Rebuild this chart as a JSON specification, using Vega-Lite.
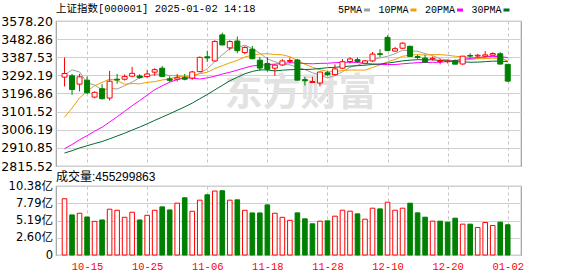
{
  "$schema": "https://vega.github.io/schema/vega-lite/v6.json",
  "background": "white",
  "padding": {"left": 0, "top": 2, "right": 5, "bottom": 0},
  "config": {
    "view": {"stroke": "#a0a0a0", "strokeWidth": 1.2}
  },
  "bounds": "flush",
  "spacing": 20,
  "datasets": {
    "k": [
      {"i":0,"d":"10-10","o":3283,"h":3386,"l":3234,"c":3301.93,"v":8.46,"vd":"up","m5":3294.9,"m10":3072.1,"m20":2906.8,"m30":2883.9},
      {"i":1,"d":"10-11","o":3290,"h":3300,"l":3190,"c":3217.74,"v":6.03,"vd":"down","m5":3321.0,"m10":3120.2,"m20":2928.5,"m30":2895.9},
      {"i":2,"d":"10-14","o":3246,"h":3300,"l":3208,"c":3284.32,"v":6.28,"vd":"up","m5":3310.5,"m10":3173.7,"m20":2953.3,"m30":2910.5},
      {"i":3,"d":"10-15","o":3267,"h":3286,"l":3194,"c":3201.29,"v":5.72,"vd":"down","m5":3252.8,"m10":3207.5,"m20":2975.1,"m30":2922.0},
      {"i":4,"d":"10-16","o":3178,"h":3208,"l":3171,"c":3202.95,"v":5.06,"vd":"up","m5":3241.6,"m10":3238.2,"m20":2998.4,"m30":2933.6},
      {"i":5,"d":"10-17","o":3222,"h":3246,"l":3165,"c":3169.38,"v":5.27,"vd":"down","m5":3215.1,"m10":3255.0,"m20":3019.6,"m30":2944.3},
      {"i":6,"d":"10-18","o":3173,"h":3316,"l":3160,"c":3261.56,"v":6.89,"vd":"up","m5":3223.9,"m10":3272.4,"m20":3046.6,"m30":2958.4},
      {"i":7,"d":"10-21","o":3272,"h":3300,"l":3248,"c":3268.11,"v":6.73,"vd":"up","m5":3220.7,"m10":3265.6,"m20":3074.2,"m30":2973.3},
      {"i":8,"d":"10-22","o":3272,"h":3297,"l":3265,"c":3285.87,"v":5.67,"vd":"up","m5":3237.6,"m10":3245.2,"m20":3103.3,"m30":2988.0},
      {"i":9,"d":"10-23","o":3288,"h":3337,"l":3283,"c":3302.80,"v":6.43,"vd":"up","m5":3257.5,"m10":3249.6,"m20":3132.5,"m30":3004.4},
      {"i":10,"d":"10-24","o":3289,"h":3298,"l":3274,"c":3280.26,"v":5.27,"vd":"down","m5":3279.7,"m10":3247.4,"m20":3159.8,"m30":3020.3},
      {"i":11,"d":"10-25","o":3286,"h":3320,"l":3280,"c":3299.70,"v":5.97,"vd":"up","m5":3287.3,"m10":3255.6,"m20":3187.9,"m30":3037.5},
      {"i":12,"d":"10-28","o":3309,"h":3330,"l":3290,"c":3322.20,"v":6.73,"vd":"up","m5":3298.2,"m10":3259.4,"m20":3216.6,"m30":3055.3},
      {"i":13,"d":"10-29","o":3330,"h":3342,"l":3284,"c":3286.41,"v":7.24,"vd":"down","m5":3298.3,"m10":3267.9,"m20":3237.7,"m30":3072.7},
      {"i":14,"d":"10-30","o":3274,"h":3288,"l":3258,"c":3266.24,"v":6.78,"vd":"down","m5":3291.0,"m10":3274.3,"m20":3256.2,"m30":3090.3},
      {"i":15,"d":"10-31","o":3272,"h":3299,"l":3260,"c":3279.82,"v":7.80,"vd":"up","m5":3290.9,"m10":3285.3,"m20":3270.2,"m30":3108.2},
      {"i":16,"d":"11-01","o":3280,"h":3300,"l":3266,"c":3272.01,"v":8.61,"vd":"down","m5":3285.3,"m10":3286.3,"m20":3279.4,"m30":3126.5},
      {"i":17,"d":"11-04","o":3278,"h":3316,"l":3269,"c":3310.21,"v":6.58,"vd":"up","m5":3282.9,"m10":3290.6,"m20":3278.1,"m30":3146.3},
      {"i":18,"d":"11-05","o":3312,"h":3391,"l":3309,"c":3386.99,"v":8.25,"vd":"up","m5":3303.1,"m10":3300.7,"m20":3272.9,"m30":3169.1},
      {"i":19,"d":"11-06","o":3390,"h":3422,"l":3363,"c":3383.81,"v":9.06,"vd":"down","m5":3326.6,"m10":3308.8,"m20":3279.2,"m30":3191.3},
      {"i":20,"d":"11-07","o":3368,"h":3477,"l":3365,"c":3470.66,"v":9.62,"vd":"up","m5":3364.7,"m10":3327.8,"m20":3287.6,"m30":3215.8},
      {"i":21,"d":"11-08","o":3505,"h":3517,"l":3450,"c":3452.30,"v":9.67,"vd":"down","m5":3400.8,"m10":3343.1,"m20":3299.3,"m30":3239.6},
      {"i":22,"d":"11-11","o":3437,"h":3477,"l":3424,"c":3470.07,"v":8.25,"vd":"up","m5":3432.8,"m10":3357.9,"m20":3308.6,"m30":3263.7},
      {"i":23,"d":"11-12","o":3473,"h":3496,"l":3409,"c":3421.97,"v":8.30,"vd":"down","m5":3439.8,"m10":3371.4,"m20":3319.7,"m30":3282.3},
      {"i":24,"d":"11-13","o":3412,"h":3445,"l":3403,"c":3439.28,"v":6.73,"vd":"up","m5":3450.9,"m10":3388.7,"m20":3331.5,"m30":3300.4},
      {"i":25,"d":"11-14","o":3430,"h":3447,"l":3377,"c":3379.84,"v":6.33,"vd":"down","m5":3432.7,"m10":3398.7,"m20":3342.0,"m30":3313.0},
      {"i":26,"d":"11-15","o":3372,"h":3389,"l":3316,"c":3330.73,"v":6.33,"vd":"down","m5":3408.4,"m10":3404.6,"m20":3345.5,"m30":3321.1},
      {"i":27,"d":"11-18","o":3355,"h":3388,"l":3312,"c":3323.85,"v":7.54,"vd":"down","m5":3379.1,"m10":3406.0,"m20":3348.3,"m30":3320.7},
      {"i":28,"d":"11-19","o":3330,"h":3349,"l":3290,"c":3346.01,"v":6.28,"vd":"up","m5":3363.9,"m10":3401.9,"m20":3351.3,"m30":3315.9},
      {"i":29,"d":"11-20","o":3347,"h":3378,"l":3341,"c":3367.99,"v":5.67,"vd":"up","m5":3349.7,"m10":3400.3,"m20":3354.5,"m30":3319.5},
      {"i":30,"d":"11-21","o":3366,"h":3386,"l":3356,"c":3370.40,"v":5.22,"vd":"up","m5":3347.8,"m10":3390.2,"m20":3359.0,"m30":3321.8},
      {"i":31,"d":"11-22","o":3373,"h":3379,"l":3265,"c":3267.19,"v":6.34,"vd":"down","m5":3335.1,"m10":3371.7,"m20":3357.4,"m30":3323.5},
      {"i":32,"d":"11-25","o":3270,"h":3285,"l":3239,"c":3263.76,"v":5.44,"vd":"down","m5":3323.1,"m10":3351.1,"m20":3354.5,"m30":3322.8},
      {"i":33,"d":"11-26","o":3255,"h":3285,"l":3253,"c":3259.76,"v":4.69,"vd":"down","m5":3305.8,"m10":3334.9,"m20":3353.1,"m30":3324.7},
      {"i":34,"d":"11-27","o":3252,"h":3312,"l":3234,"c":3309.78,"v":5.09,"vd":"up","m5":3294.2,"m10":3321.9,"m20":3355.3,"m30":3328.3},
      {"i":35,"d":"11-28","o":3306,"h":3314,"l":3290,"c":3295.70,"v":5.14,"vd":"down","m5":3279.2,"m10":3313.5,"m20":3356.1,"m30":3332.5},
      {"i":36,"d":"11-29","o":3296,"h":3350,"l":3290,"c":3326.46,"v":5.84,"vd":"up","m5":3291.1,"m10":3313.1,"m20":3358.8,"m30":3334.7},
      {"i":37,"d":"12-02","o":3330,"h":3378,"l":3325,"c":3363.98,"v":6.74,"vd":"up","m5":3311.1,"m10":3317.1,"m20":3361.5,"m30":3337.9},
      {"i":38,"d":"12-03","o":3365,"h":3388,"l":3355,"c":3378.81,"v":6.59,"vd":"up","m5":3335.0,"m10":3320.4,"m20":3361.1,"m30":3341.0},
      {"i":39,"d":"12-04","o":3375,"h":3386,"l":3358,"c":3364.65,"v":6.19,"vd":"down","m5":3345.9,"m10":3320.0,"m20":3360.2,"m30":3343.0},
      {"i":40,"d":"12-05","o":3356,"h":3373,"l":3350,"c":3368.86,"v":5.39,"vd":"up","m5":3360.6,"m10":3319.9,"m20":3355.1,"m30":3346.0},
      {"i":41,"d":"12-06","o":3368,"h":3415,"l":3362,"c":3404.08,"v":7.04,"vd":"up","m5":3376.1,"m10":3333.6,"m20":3352.7,"m30":3349.5},
      {"i":42,"d":"12-09","o":3406,"h":3430,"l":3388,"c":3402.53,"v":6.94,"vd":"down","m5":3383.8,"m10":3347.5,"m20":3349.3,"m30":3352.1},
      {"i":43,"d":"12-10","o":3492,"h":3503,"l":3420,"c":3422.66,"v":7.94,"vd":"up","m5":3392.6,"m10":3363.8,"m20":3349.3,"m30":3356.7},
      {"i":44,"d":"12-11","o":3420,"h":3442,"l":3417,"c":3432.49,"v":6.74,"vd":"up","m5":3406.1,"m10":3376.0,"m20":3349.0,"m30":3362.2},
      {"i":45,"d":"12-12","o":3435,"h":3466,"l":3432,"c":3461.50,"v":7.04,"vd":"up","m5":3424.7,"m10":3392.6,"m20":3353.1,"m30":3368.3},
      {"i":46,"d":"12-13","o":3445,"h":3449,"l":3390,"c":3391.88,"v":7.79,"vd":"down","m5":3422.2,"m10":3399.1,"m20":3356.1,"m30":3372.3},
      {"i":47,"d":"12-16","o":3391,"h":3400,"l":3377,"c":3386.33,"v":6.34,"vd":"down","m5":3419.0,"m10":3401.4,"m20":3359.2,"m30":3374.8},
      {"i":48,"d":"12-17","o":3383,"h":3400,"l":3358,"c":3361.49,"v":5.69,"vd":"down","m5":3406.7,"m10":3399.6,"m20":3360.0,"m30":3374.0},
      {"i":49,"d":"12-18","o":3378,"h":3392,"l":3370,"c":3382.21,"v":5.09,"vd":"up","m5":3396.7,"m10":3401.4,"m20":3360.7,"m30":3373.9},
      {"i":50,"d":"12-19","o":3365,"h":3380,"l":3350,"c":3370.03,"v":5.09,"vd":"down","m5":3378.4,"m10":3401.5,"m20":3360.7,"m30":3370.6},
      {"i":51,"d":"12-20","o":3364,"h":3375,"l":3355,"c":3368.07,"v":4.94,"vd":"down","m5":3373.6,"m10":3397.9,"m20":3365.8,"m30":3367.8},
      {"i":52,"d":"12-23","o":3370,"h":3376,"l":3350,"c":3351.26,"v":5.54,"vd":"down","m5":3366.6,"m10":3392.8,"m20":3370.1,"m30":3363.8},
      {"i":53,"d":"12-24","o":3352,"h":3394,"l":3348,"c":3393.35,"v":4.64,"vd":"up","m5":3373.0,"m10":3389.9,"m20":3376.8,"m30":3362.8},
      {"i":54,"d":"12-25","o":3397,"h":3408,"l":3385,"c":3393.53,"v":4.64,"vd":"down","m5":3375.2,"m10":3386.0,"m20":3381.0,"m30":3361.3},
      {"i":55,"d":"12-26","o":3394,"h":3405,"l":3386,"c":3398.08,"v":4.14,"vd":"up","m5":3380.9,"m10":3379.6,"m20":3386.1,"m30":3361.9},
      {"i":56,"d":"12-27","o":3393,"h":3420,"l":3388,"c":3400.14,"v":4.89,"vd":"up","m5":3387.3,"m10":3380.4,"m20":3389.8,"m30":3364.2},
      {"i":57,"d":"12-30","o":3399,"h":3413,"l":3396,"c":3407.33,"v":4.44,"vd":"up","m5":3398.5,"m10":3382.6,"m20":3392.0,"m30":3367.0},
      {"i":58,"d":"12-31","o":3406,"h":3414,"l":3350,"c":3351.76,"v":4.94,"vd":"down","m5":3390.2,"m10":3381.6,"m20":3390.6,"m30":3367.2},
      {"i":59,"d":"01-02","o":3350,"h":3351,"l":3258,"c":3262.00,"v":4.55,"vd":"down","m5":3363.9,"m10":3369.6,"m20":3385.5,"m30":3363.7}
    ]
  },
  "vconcat": [
    {
      "width": 465,
      "height": 145,
      "title": {"text": "上证指数[000001] 2025-01-02 14:18", "anchor": "start", "frame": "group", "font": "Liberation Mono, Noto Sans CJK SC", "fontSize": 10.5, "fontWeight": "normal", "color": "#000000", "offset": 1},
      "data": {"name": "k"},
      "encoding": {
        "x": {"field": "i", "type": "quantitative", "scale": {"domain": [-0.47, 60.1], "nice": false, "zero": false},
          "axis": {"values": [3, 11, 19, 27, 35, 43, 51, 59], "labels": false, "ticks": false, "domain": false, "grid": true, "gridDash": [3, 3], "gridColor": "#c4c4c4", "title": null}}
      },
      "layer": [
        {
          "transform": [{"filter": "datum.i == 31"}],
          "mark": {"type": "text", "text": "东方财富", "font": "Noto Sans CJK SC", "fontSize": 38, "fontWeight": "bold", "align": "center", "baseline": "middle", "dx": 3},
          "encoding": {
            "y": {"datum": 3196, "type": "quantitative", "scale": {"domain": [2815.52, 3578.2], "nice": false, "zero": false},
              "axis": {"values": [2815.52, 2910.85, 3006.19, 3101.52, 3196.86, 3292.19, 3387.53, 3482.86, 3578.2], "format": ".2f", "title": null, "ticks": false, "domain": false, "grid": true, "gridColor": "#d0d0d0", "labelFont": "DejaVu Sans", "labelFontSize": 12.5, "labelColor": "#000000", "labelPadding": 3.5, "minExtent": 52, "maxExtent": 52, "labelFlush": false, "labelOverlap": false}},
            "color": {"value": "#e2e2e2"}
          }
        },
        {
          "transform": [{"fold": ["m5", "m10", "m20", "m30"], "as": ["s", "mv"]}],
          "mark": {"type": "line", "strokeWidth": 1, "interpolate": "linear"},
          "encoding": {
            "y": {"field": "mv", "type": "quantitative", "scale": {"domain": [2815.52, 3578.2], "nice": false, "zero": false},
              "axis": {"values": [2815.52, 2910.85, 3006.19, 3101.52, 3196.86, 3292.19, 3387.53, 3482.86, 3578.2], "format": ".2f", "title": null, "ticks": false, "domain": false, "grid": true, "gridColor": "#d0d0d0", "labelFont": "DejaVu Sans", "labelFontSize": 12.5, "labelColor": "#000000", "labelPadding": 3.5, "minExtent": 52, "maxExtent": 52, "labelFlush": false, "labelOverlap": false}},
            "color": {"field": "s", "type": "nominal",
              "scale": {"domain": ["m5", "m10", "m20", "m30"], "range": ["#a0a0a0", "#f0a000", "#ff00ff", "#006b33"]},
              "legend": {"orient": "none", "legendX": 306, "legendY": -16, "direction": "horizontal", "title": null,
                "labelExpr": "datum.value == 'm5' ? '5PMA' : datum.value == 'm10' ? '10PMA' : datum.value == 'm20' ? '20PMA' : '30PMA'",
                "labelFont": "Liberation Mono", "labelFontSize": 10, "labelColor": "#000000", "labelAlign": "right", "labelOffset": -10,
                "symbolType": "stroke", "symbolSize": 36, "symbolStrokeWidth": 3, "columnPadding": 1.5, "gridAlign": "each", "padding": 0}}
          }
        },
        {
          "mark": {"type": "rule", "strokeWidth": 1},
          "encoding": {
            "y": {"field": "l", "type": "quantitative", "scale": {"domain": [2815.52, 3578.2], "nice": false, "zero": false},
              "axis": {"values": [2815.52, 2910.85, 3006.19, 3101.52, 3196.86, 3292.19, 3387.53, 3482.86, 3578.2], "format": ".2f", "title": null, "ticks": false, "domain": false, "grid": true, "gridColor": "#d0d0d0", "labelFont": "DejaVu Sans", "labelFontSize": 12.5, "labelColor": "#000000", "labelPadding": 3.5, "minExtent": 52, "maxExtent": 52, "labelFlush": false, "labelOverlap": false}},
            "y2": {"field": "h"},
            "color": {"condition": {"test": "datum.c >= datum.o", "value": "#ff0000"}, "value": "#008000"}
          }
        },
        {
          "mark": {"type": "bar", "width": 5, "strokeWidth": 1},
          "encoding": {
            "y": {"field": "o", "type": "quantitative", "scale": {"domain": [2815.52, 3578.2], "nice": false, "zero": false},
              "axis": {"values": [2815.52, 2910.85, 3006.19, 3101.52, 3196.86, 3292.19, 3387.53, 3482.86, 3578.2], "format": ".2f", "title": null, "ticks": false, "domain": false, "grid": true, "gridColor": "#d0d0d0", "labelFont": "DejaVu Sans", "labelFontSize": 12.5, "labelColor": "#000000", "labelPadding": 3.5, "minExtent": 52, "maxExtent": 52, "labelFlush": false, "labelOverlap": false}},
            "y2": {"field": "c"},
            "fill": {"condition": {"test": "datum.c >= datum.o", "value": "#ffffff"}, "value": "#008000"},
            "stroke": {"condition": {"test": "datum.c >= datum.o", "value": "#ff0000"}, "value": "#008000"}
          }
        }
      ]
    },
    {
      "width": 465,
      "height": 69,
      "title": {"text": "成交量:455299863", "anchor": "start", "frame": "group", "font": "Liberation Sans, Noto Sans CJK SC", "fontSize": 12, "fontWeight": "normal", "color": "#000000", "offset": -4},
      "data": {"name": "k"},
      "mark": {"type": "bar", "width": 4.6, "strokeWidth": 1},
      "encoding": {
        "x": {"field": "i", "type": "quantitative", "scale": {"domain": [-0.47, 60.1], "nice": false, "zero": false},
          "axis": {"values": [3, 11, 19, 27, 35, 43, 51, 59], "labelExpr": "['10-15','10-25','11-06','11-18','11-28','12-10','12-20','01-02'][indexof([3,11,19,27,35,43,51,59], datum.value)]", "ticks": false, "domain": false, "grid": true, "gridDash": [3, 3], "gridColor": "#c4c4c4", "title": null, "labelColor": "#ff0000", "labelFont": "Liberation Mono", "labelFontSize": 10.5, "labelPadding": 6, "labelFlush": false, "labelOverlap": false}},
        "y": {"field": "v", "type": "quantitative", "scale": {"domain": [0, 10.38], "nice": false, "zero": true},
          "axis": {"values": [0, 2.596, 5.19, 7.786, 10.38], "labelExpr": "datum.value == 0 ? '0' : format(datum.value, '.2f') + '亿'", "title": null, "ticks": false, "domain": false, "grid": true, "gridColor": "#d0d0d0", "labelFont": "DejaVu Sans, Noto Sans CJK SC", "labelFontSize": 11.5, "labelColor": "#000000", "labelPadding": 3.5, "minExtent": 52, "maxExtent": 52, "labelFlush": false, "labelOverlap": false}},
        "fill": {"condition": {"test": "datum.vd == 'up'", "value": "#ffffff"}, "value": "#008000"},
        "stroke": {"condition": {"test": "datum.vd == 'up'", "value": "#ff0000"}, "value": "#008000"}
      }
    }
  ]
}
